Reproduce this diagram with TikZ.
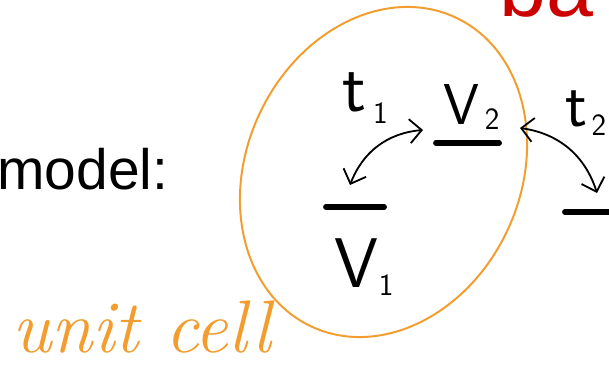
\documentclass[tikz,border=0pt]{standalone}
\usepackage{fontspec}
\newfontfamily\slidefont{Liberation Sans}
\usetikzlibrary{arrows.meta}
\definecolor{cellorange}{HTML}{F29D2E}
\definecolor{titlered}{HTML}{CC0000}
% handwritten index: kern, drop, digit
\newcommand{\idx}[3]{\kern#1pt\raisebox{-#2pt}{\fontsize{22}{22}\selectfont #3}}

\begin{document}
\begin{tikzpicture}[x=0.025cm, y=0.025cm,
  level/.style={line width=4.2pt, line cap=round},
  hop/.style={{Straight Barb[length=3mm,width=6mm]}-{Straight Barb[length=3mm,width=6mm]},
              line width=1.3pt, line cap=round, bend left=32},
  hand/.style={font=\sffamily\fontsize{#1}{#1}\selectfont, inner sep=0pt, anchor=base west}]
  \useasboundingbox (0,0) rectangle (609,367);

  % slide text
  \node[font=\slidefont\fontsize{40.5}{40.5}\selectfont, inner sep=0pt, anchor=base west] (model) at (-3,177) {model:};
  \node[font=\slidefont\fontsize{60}{60}\selectfont, text=titlered, inner sep=0pt, anchor=base west] (ba) at (499,350) {ba};

  % unit cell
  \draw[cellorange, line width=1.4pt, rotate around={65:(383.5,195)}] (383.5,195) ellipse [x radius=170.5, y radius=137];
  \node[font=\itshape\fontsize{53}{53}\selectfont, text=cellorange, inner sep=0pt, anchor=base west] (cell) at (12,15) {unit cell};

  % levels
  \draw[level] (326,160) -- (384,160);
  \draw[level] (436,224) -- (499,224);
  \draw[level] (565,155) -- (620,155);

  \node[hand=50] (v1) at (334,79) {V\idx{0.5}{5}{1}};
  \node[hand=41] (v2) at (443,242) {V\idx{4}{3}{2}};
  \node[hand=50] (t1) at (342,255) {t\idx{5}{8}{1}};
  \node[hand=46] (t2) at (565,240) {t\idx{3}{6}{2}};

  % hoppings
  \coordinate (h1a) at (350,182);
  \coordinate (h1b) at (423,237);
  \coordinate (h2a) at (520,239);
  \coordinate (h2b) at (597,174);
  \draw[hop] (h1a) to (h1b);
  \draw[hop] (h2a) to (h2b);
\end{tikzpicture}
\end{document}
